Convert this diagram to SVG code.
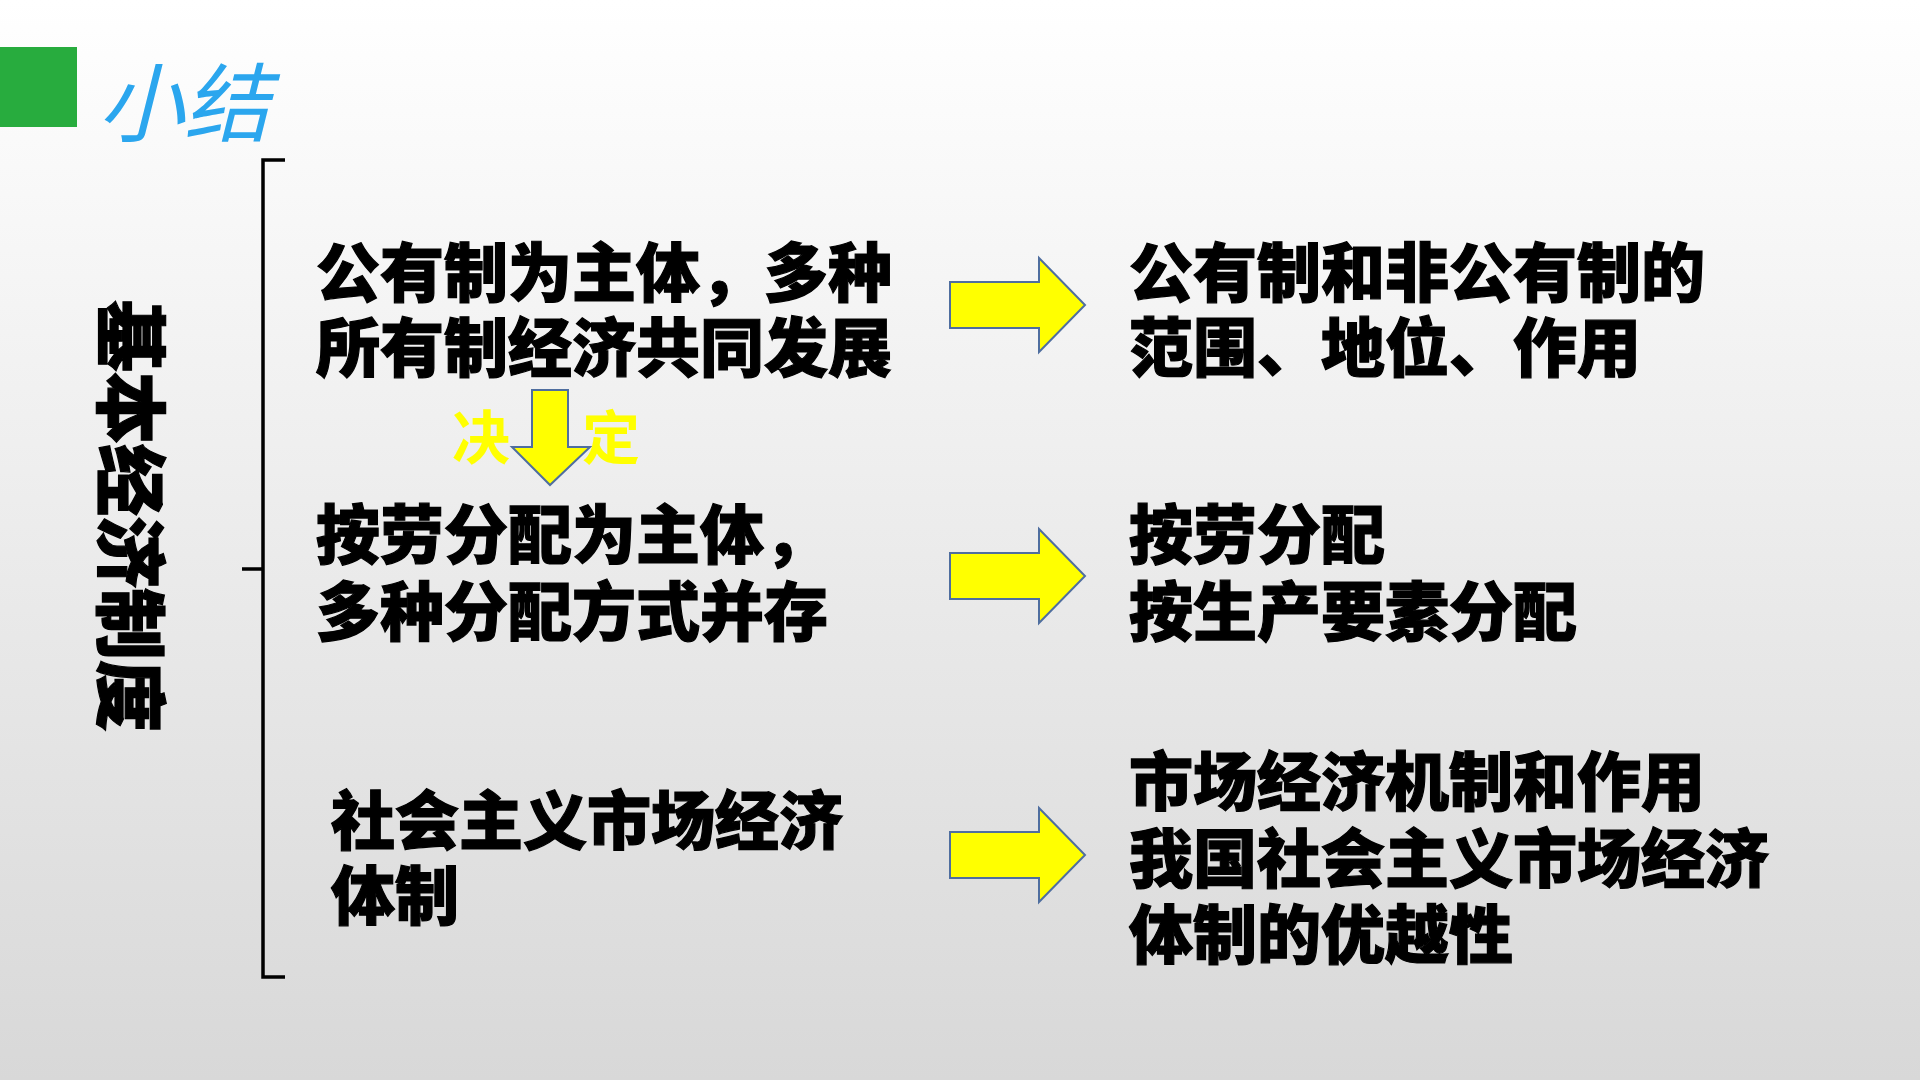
<svg xmlns="http://www.w3.org/2000/svg" width="1920" height="1080" viewBox="0 0 1920 1080">
<defs>
<linearGradient id="bg" x1="0" y1="0" x2="0" y2="1">
<stop offset="0" stop-color="#FFFFFF"/>
<stop offset="1" stop-color="#D8D8D8"/>
</linearGradient>
<path id="rarrow" d="M0,-23 L89,-23 L89,-47 L135,0 L89,47 L89,23 L0,23 Z"/>
</defs>
<style>
.t{font-family:"Noto Sans CJK SC","Noto Sans CJK TC",sans-serif;font-weight:900;font-size:64px;fill:#000;stroke:#000;stroke-width:1.2px;dominant-baseline:central}
.arr{fill:#FFFF00;stroke:#4F6E9F;stroke-width:2}
.brace{fill:none;stroke:#000;stroke-width:3.5}
.y{font-family:"Noto Sans CJK SC",sans-serif;font-weight:bold;font-size:58px;fill:#FFFF00;dominant-baseline:central}
</style>
<rect x="0" y="0" width="1920" height="1080" fill="url(#bg)"/>
<rect x="0" y="47" width="77" height="80" fill="#28AC3E"/>
<text x="98" y="97" style="font-family:'Noto Sans CJK SC',sans-serif;font-style:italic;font-size:86px;fill:#2BA6EE;dominant-baseline:central">小结</text>

<g id="brace"><path class="brace" d="M285,160 L263,160 L263,977 L285,977 M242,569 L263,569"/></g>
<g id="label"><text class="t" style="font-size:72px" text-anchor="middle" transform="translate(135,516) rotate(90)" x="0" y="0">基本经济制度</text></g>

<g id="n1"><text class="t" x="316" y="268">公有制为主体，多种<tspan x="316" dy="75">所有制经济共同发展</tspan></text></g>
<g id="n2"><text class="t" x="316" y="530">按劳分配为主体，<tspan x="316" dy="77">多种分配方式并存</tspan></text></g>
<g id="n3"><text class="t" x="331" y="816">社会主义市场经济<tspan x="331" dy="75">体制</tspan></text></g>
<g id="r1"><text class="t" x="1129" y="268">公有制和非公有制的<tspan x="1129" dy="75">范围、地位、作用</tspan></text></g>
<g id="r2"><text class="t" x="1129" y="530">按劳分配<tspan x="1129" dy="77">按生产要素分配</tspan></text></g>
<g id="r3"><text class="t" x="1129" y="777">市场经济机制和作用<tspan x="1129" dy="77">我国社会主义市场经济</tspan><tspan x="1129" dy="76">体制的优越性</tspan></text></g>

<g id="connectors">
<use href="#rarrow" class="arr" x="950" y="305"/>
<use href="#rarrow" class="arr" x="950" y="576"/>
<use href="#rarrow" class="arr" x="950" y="855"/>
<path class="arr" d="M532,390 L568,390 L568,447 L590,447 L550,485 L512,447 L532,447 Z"/>
<text class="y" x="452" y="434">决</text>
<text class="y" x="582" y="434">定</text>
</g>
</svg>
